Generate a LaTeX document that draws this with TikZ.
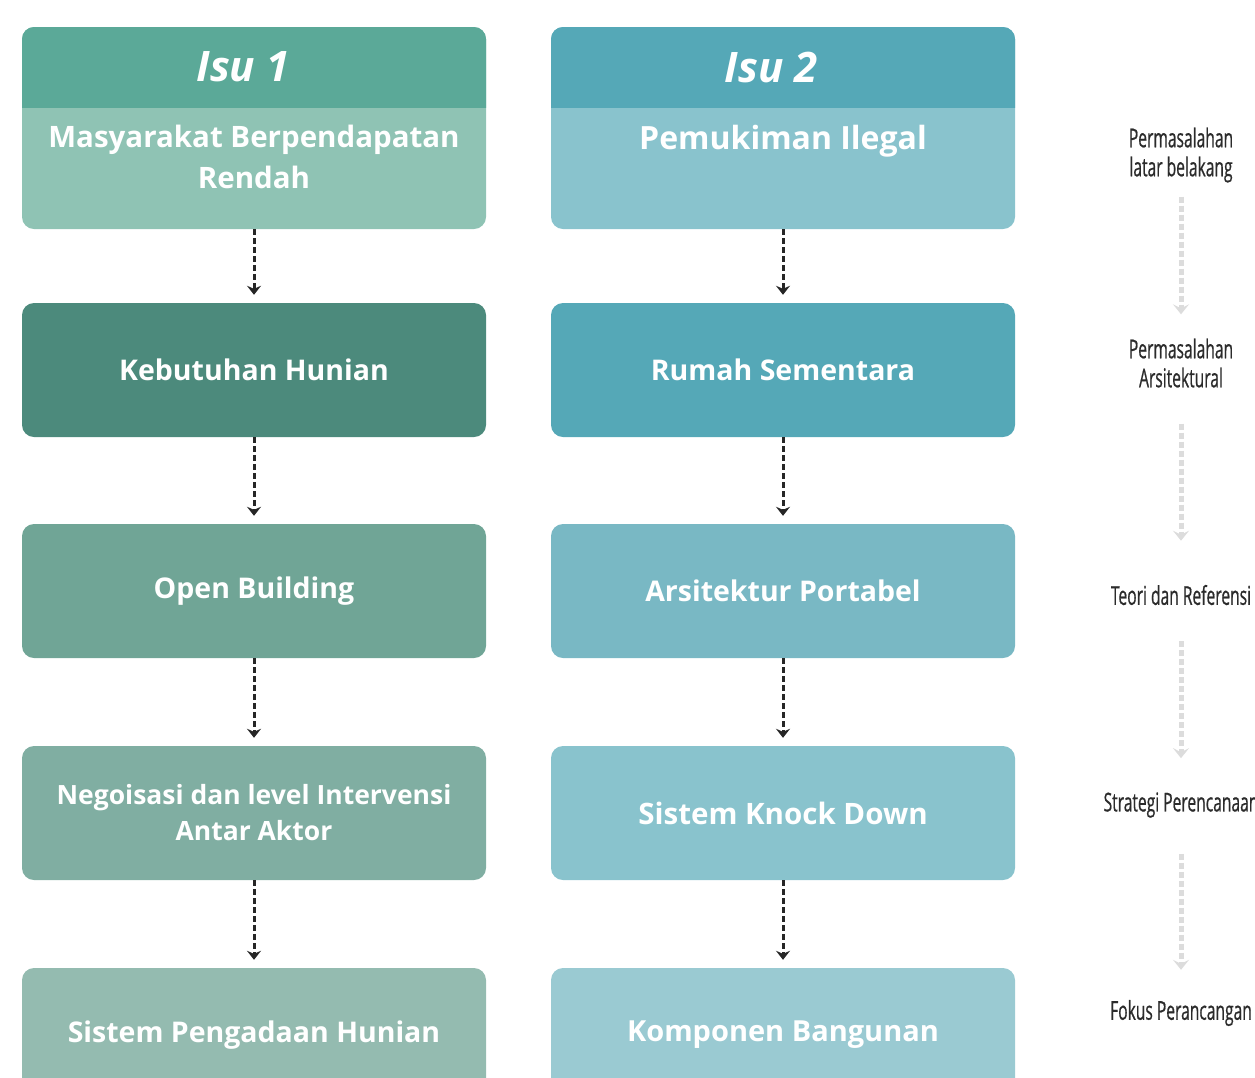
\documentclass[tikz,border=0pt]{standalone}
\usepackage{fontspec}
\setmainfont{Open Sans}
\newfontfamily\condfont[FakeStretch=0.6, FakeBold=0.6]{Open Sans}
\usetikzlibrary{arrows.meta}
\definecolor{headA}{HTML}{5BA998}
\definecolor{bodyA}{HTML}{8FC3B4}
\definecolor{kebA}{HTML}{4C8A7C}
\definecolor{openA}{HTML}{70A596}
\definecolor{negoA}{HTML}{80AEA2}
\definecolor{sisA}{HTML}{94BBB0}
\definecolor{headB}{HTML}{55A8B7}
\definecolor{bodyB}{HTML}{89C3CD}
\definecolor{rumB}{HTML}{55A8B7}
\definecolor{arsB}{HTML}{79B8C4}
\definecolor{kdB}{HTML}{89C3CD}
\definecolor{komB}{HTML}{9ACAD2}
\definecolor{flowgray}{HTML}{DCDCDC}
\definecolor{labtext}{HTML}{2B2B2B}

\begin{document}
\begin{tikzpicture}[x=1pt, y=-1pt,
  box/.style={rounded corners=12pt, minimum width=464pt, minimum height=134pt, inner sep=0pt,
    text=white, align=center, font=\fontsize{28.5}{37}\selectfont\bfseries},
  txt/.style={text=white, align=center, inner sep=0pt, font=\fontsize{29.5}{41}\selectfont\bfseries},
  head/.style={text=white, inner sep=0pt, font=\fontsize{42}{50}\selectfont\bfseries\itshape},
  flow/.style={line width=3pt, draw=black!85, dash pattern=on 6pt off 3pt,
    -{Stealth[length=9pt, width=14pt, inset=3pt]}, shorten >=8pt},
  lab/.style={text=labtext, align=center, inner sep=0pt, font=\condfont\fontsize{26}{29}\selectfont},
  gflow/.style={line width=5pt, draw=flowgray, dash pattern=on 6pt off 3pt,
    -{Stealth[length=10pt, width=16pt, inset=4pt]}}]
  \useasboundingbox (0,0) rectangle (1255,1077);
  % isu 1
  \node[box, fill=bodyA, minimum height=202pt] (isu1) at (254,128) {};
  \begin{scope}
    \clip (22,27) rectangle (486,107);
    \fill[headA, rounded corners=12pt] (22,27) rectangle (486,140);
  \end{scope}
  \node[head] (isu1h) at (243,67) {Isu 1};
  \node[txt] (mbr) at (254,157) {Masyarakat Berpendapatan\\Rendah};
  \node[box, fill=kebA] (keb) at (254,370) {Kebutuhan Hunian};
  \node[box, fill=openA] (open) at (254,591) {Open Building};
  \node[box, fill=negoA, font=\fontsize{26.5}{36}\selectfont\bfseries] (nego) at (254,813) {Negoisasi dan level Intervensi\\Antar Aktor};
  \node[box, fill=sisA] (sis) at (254,1035) {Sistem Pengadaan Hunian};
  % isu 2
  \node[box, fill=bodyB, minimum height=202pt] (isu2) at (783,128) {};
  \begin{scope}
    \clip (551,27) rectangle (1015,107);
    \fill[headB, rounded corners=12pt] (551,27) rectangle (1015,140);
  \end{scope}
  \node[head] (isu2h) at (771,67) {Isu 2};
  \node[txt, font=\fontsize{32}{41}\selectfont\bfseries] (pil) at (783,141) {Pemukiman Ilegal};
  \node[box, fill=rumB] (rum) at (783,370) {Rumah Sementara};
  \node[box, fill=arsB] (ars) at (783,591) {Arsitektur Portabel};
  \node[box, fill=kdB, font=\fontsize{29.5}{37}\selectfont\bfseries] (kd) at (783,813) {Sistem Knock Down};
  \node[box, fill=komB, font=\fontsize{29}{37}\selectfont\bfseries] (kom) at (783,1035) {Komponen Bangunan};
  % arrows
  \draw[flow] (isu1) -- (keb);
  \draw[flow] (keb) -- (open);
  \draw[flow] (open) -- (nego);
  \draw[flow] (nego) -- (sis);
  \draw[flow] (isu2) -- (rum);
  \draw[flow] (rum) -- (ars);
  \draw[flow] (ars) -- (kd);
  \draw[flow] (kd) -- (kom);
  % tahapan
  \node[lab] (l1) at (1181,155) {Permasalahan\\latar belakang};
  \node[lab] (l2) at (1181,363) {Permasalahan\\Arsitektural};
  \node[lab] (l3) at (1181,595) {Teori dan Referensi};
  \node[lab] (l4) at (1181,805) {Strategi Perencanaan};
  \node[lab] (l5) at (1181,1013) {Fokus Perancangan};
  \draw[gflow, shorten <=14pt, shorten >=24pt] (l1) -- (l2);
  \draw[gflow, shorten <=36pt, shorten >=44pt] (l2) -- (l3);
  \draw[gflow, shorten <=36pt, shorten >=34pt] (l3) -- (l4);
  \draw[gflow, shorten <=36pt, shorten >=30pt] (l4) -- (l5);
\end{tikzpicture}
\end{document}
